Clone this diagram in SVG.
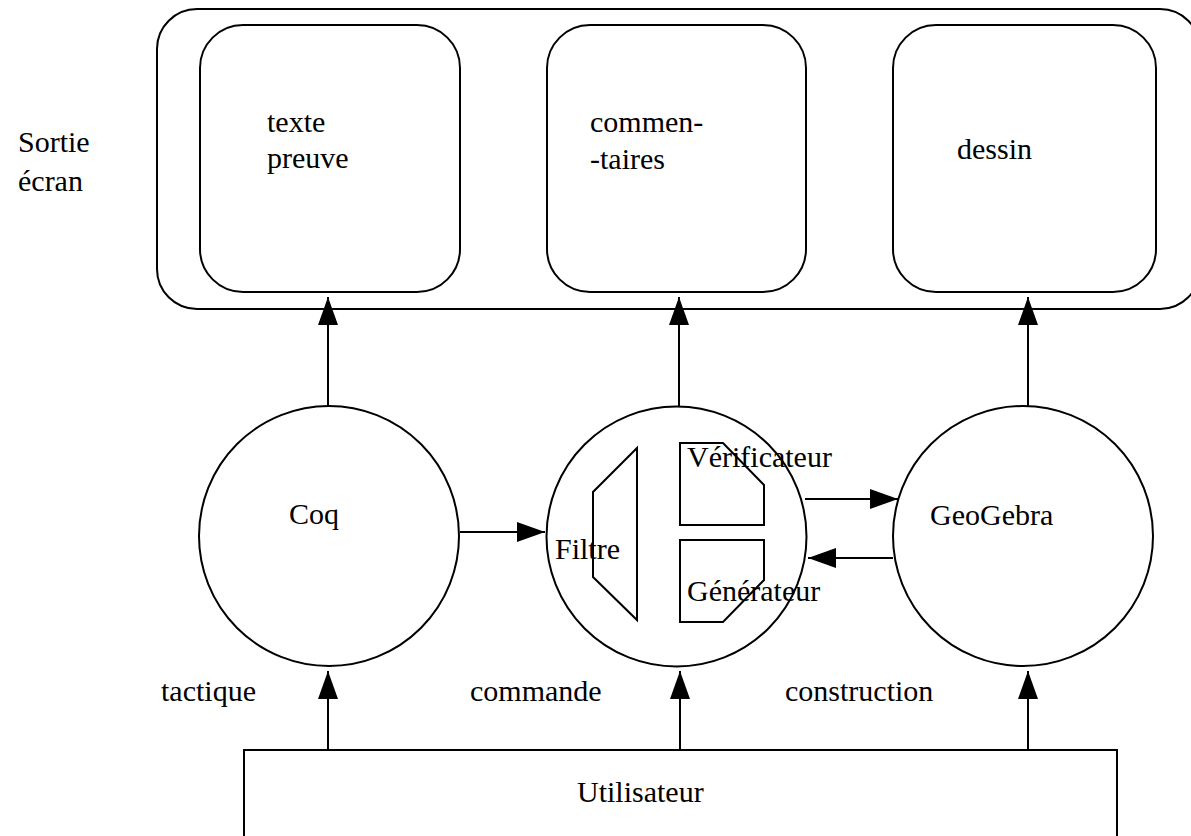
<svg xmlns="http://www.w3.org/2000/svg" width="1191" height="836" viewBox="0 0 1191 836">
<style>
.s{fill:none;stroke:#000;stroke-width:2}
.w{fill:#fff;stroke:#000;stroke-width:2}
text{font-family:"Liberation Serif","Times New Roman",serif;font-size:30px;fill:#000}
.c{stroke:#000;stroke-width:2;fill:none;marker-end:url(#ah)}
</style>
<defs>
<marker id="ah" markerUnits="userSpaceOnUse" markerWidth="28" markerHeight="20" refX="28" refY="10" orient="auto">
<path d="M0,0 L28,10 L0,20 Z" fill="#000"/>
</marker>
</defs>
<rect width="1191" height="836" fill="#fff"/>
<g id="sortie">
<rect class="w" x="157" y="9" width="1043" height="300" rx="40" ry="40"/>
<text x="18" y="152">Sortie</text>
<text x="18" y="191">écran</text>
</g>
<g id="texte-preuve">
<rect class="w" x="200" y="25" width="260" height="267" rx="43" ry="43"/>
<text x="267" y="132">texte</text>
<text x="267" y="168">preuve</text>
</g>
<g id="commentaires">
<rect class="w" x="547" y="25" width="259" height="267" rx="43" ry="43"/>
<text x="590" y="132">commen-</text>
<text x="590" y="169">-taires</text>
</g>
<g id="dessin">
<rect class="w" x="893" y="25" width="263" height="267" rx="43" ry="43"/>
<text x="957" y="159">dessin</text>
</g>
<g id="coq">
<circle class="w" cx="329" cy="536" r="130"/>
<text x="289" y="524">Coq</text>
</g>
<g id="centre">
<circle class="w" cx="676.5" cy="536.5" r="130"/>
<polygon class="s" points="637,448 593,492 593,577 637,620"/>
<polygon class="s" points="680,443 723,443 764,485 764,525 680,525"/>
<polygon class="s" points="680,540 764,540 764,580 723,622 680,622"/>
<text x="555" y="559">Filtre</text>
<text x="687" y="467">Vérificateur</text>
<text x="687" y="601">Générateur</text>
</g>
<g id="geogebra">
<circle class="w" cx="1023" cy="536" r="130"/>
<text x="930" y="525">GeoGebra</text>
</g>
<g id="utilisateur">
<rect class="w" x="244" y="750" width="873" height="100"/>
<text x="577" y="802">Utilisateur</text>
</g>
<g id="labels">
<text x="161" y="701">tactique</text>
<text x="470" y="701">commande</text>
<text x="785" y="701">construction</text>
</g>
<g id="connectors">
<line class="c" x1="328" y1="406" x2="328" y2="297"/>
<line class="c" x1="679" y1="407" x2="679" y2="297"/>
<line class="c" x1="1028" y1="407" x2="1028" y2="297"/>
<line class="c" x1="460" y1="532" x2="545" y2="532"/>
<line class="c" x1="805" y1="499" x2="898" y2="499"/>
<line class="c" x1="893" y1="558" x2="808" y2="558"/>
<line class="c" x1="328" y1="750" x2="328" y2="671"/>
<line class="c" x1="680" y1="750" x2="680" y2="671"/>
<line class="c" x1="1028" y1="750" x2="1028" y2="671"/>
</g>
</svg>
